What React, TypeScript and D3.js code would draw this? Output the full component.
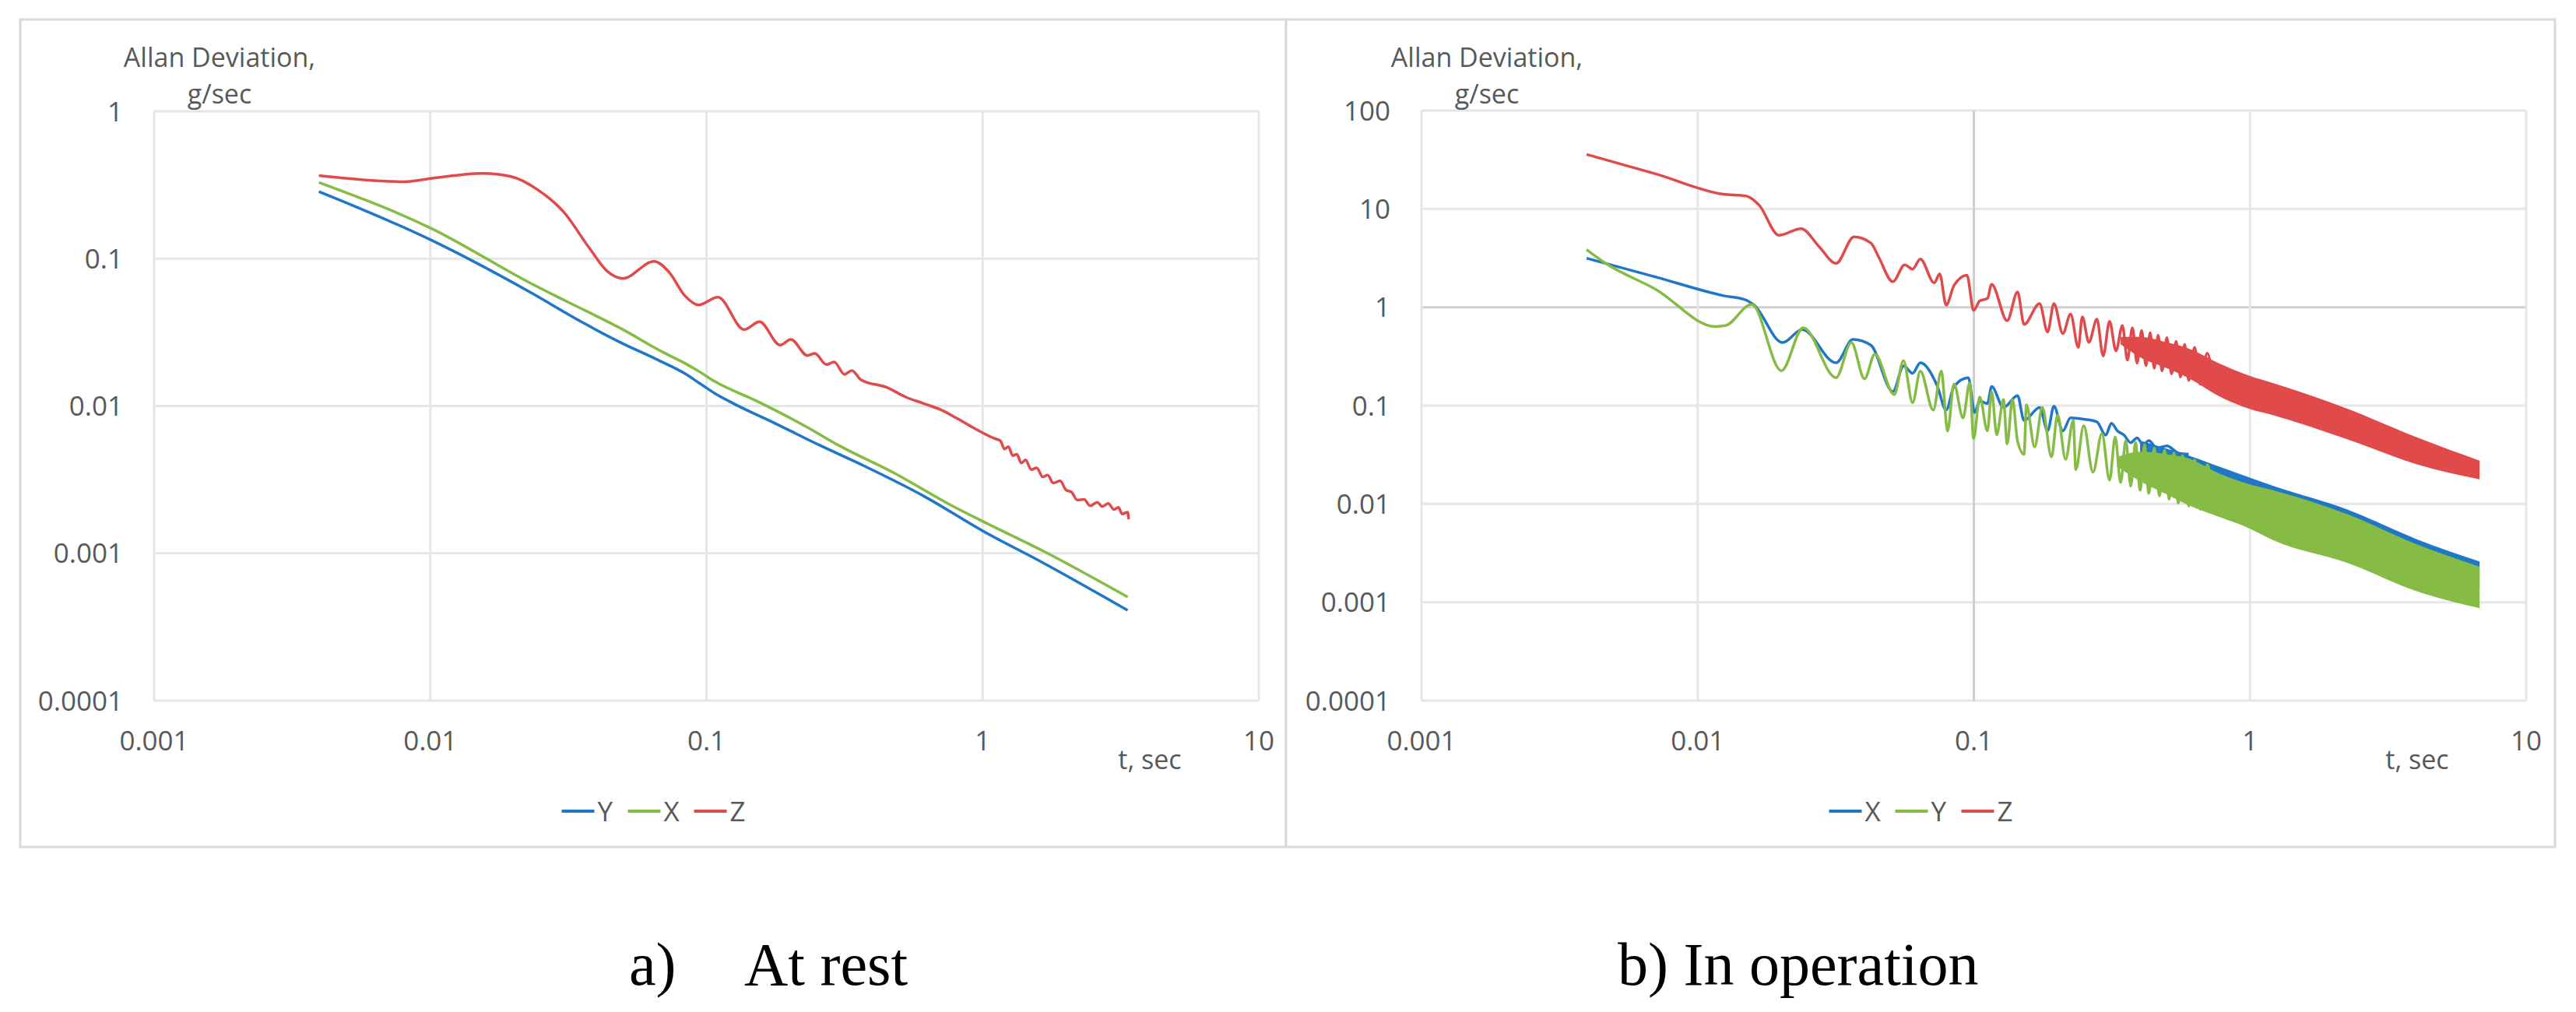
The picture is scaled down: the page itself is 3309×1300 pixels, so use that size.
import * as d3 from "d3";
import { useEffect, useRef } from "react";

const blue = "#1f77c8";
const green = "#86bb46";
const red = "#e04a4a";

const xTicks = [0.001, 0.01, 0.1, 1, 10];
const xTickLabels = ["0.001", "0.01", "0.1", "1", "10"];
const restYTicks = [1, 0.1, 0.01, 0.001, 0.0001];
const restYTickLabels = ["1", "0.1", "0.01", "0.001", "0.0001"];
const opYTicks = [100, 10, 1, 0.1, 0.01, 0.001, 0.0001];
const opYTickLabels = ["100", "10", "1", "0.1", "0.01", "0.001", "0.0001"];

// a) At rest  [t, deviation]
const restY: [number, number][] = [
    [0.00395, 0.2855], [0.01004, 0.134], [0.0229, 0.0594], [0.0352, 0.0373], [0.0488, 0.027],
    [0.0675, 0.0203], [0.0835, 0.0166], [0.0952, 0.0141], [0.107, 0.0122], [0.1277, 0.0102],
    [0.176, 0.00767], [0.256, 0.00543], [0.371, 0.00393], [0.611, 0.00245], [1.0, 0.00142],
    [1.65, 0.000865], [3.35, 0.00041]
];
const restX: [number, number][] = [
    [0.00395, 0.329], [0.01004, 0.161], [0.0229, 0.0686], [0.026, 0.0607], [0.0316, 0.0506],
    [0.0488, 0.0337], [0.0704, 0.0229], [0.0835, 0.0195], [0.0952, 0.0169], [0.107, 0.0147],
    [0.152, 0.0108], [0.226, 0.00736], [0.304, 0.00535], [0.476, 0.00352], [0.782, 0.00208],
    [1.0, 0.00165], [1.65, 0.00104], [3.35, 0.000505]
];
const restZ: [number, number][] = [
    [0.00395, 0.366], [0.0056, 0.344], [0.0081, 0.333], [0.01004, 0.35], [0.0155, 0.379],
    [0.0196, 0.361], [0.0244, 0.295], [0.0303, 0.209], [0.0376, 0.1185], [0.0437, 0.0822],
    [0.0498, 0.0734], [0.0646, 0.0958], [0.0734, 0.0805], [0.0835, 0.056], [0.0935, 0.0485],
    [0.11, 0.0548], [0.137, 0.033], [0.1556, 0.0373], [0.185, 0.0259], [0.202, 0.0283],
    [0.232, 0.022], [0.2466, 0.0227], [0.272, 0.0191], [0.29, 0.0199], [0.316, 0.01637],
    [0.336, 0.0174], [0.362, 0.0151], [0.453, 0.0133], [0.526, 0.0115], [0.611, 0.0104],
    [0.708, 0.0094], [0.802, 0.0083], [0.931, 0.00707], [1.107, 0.006], [1.16, 0.0058],
    [1.2, 0.0051], [1.24, 0.0053], [1.285, 0.0046], [1.33, 0.0047], [1.38, 0.0041],
    [1.43, 0.0043], [1.5, 0.0037], [1.57, 0.0038], [1.65, 0.0033], [1.72, 0.0034],
    [1.8, 0.003], [1.91, 0.0031], [2.0, 0.0027], [2.1, 0.0026], [2.2, 0.0023],
    [2.33, 0.00232], [2.45, 0.0021], [2.6, 0.00222], [2.71, 0.00208], [2.85, 0.00218],
    [2.99, 0.00198], [3.1, 0.00205], [3.2, 0.00185], [3.35, 0.0019], [3.38, 0.0017]
];

// b) In operation  [t, deviation]
const opX: [number, number][] = [
    [0.00396, 3.15], [0.00705, 2.03], [0.0124, 1.31], [0.015, 1.18], [0.016, 1.05],
    [0.0203, 0.437], [0.0239, 0.593], [0.0317, 0.272], [0.0365, 0.47], [0.0424, 0.41],
    [0.0509, 0.139], [0.0557, 0.253], [0.06, 0.213], [0.064, 0.272], [0.0736, 0.16],
    [0.0794, 0.09], [0.0847, 0.156], [0.0955, 0.192], [0.1007, 0.085], [0.105, 0.111],
    [0.112, 0.105], [0.116, 0.156], [0.128, 0.096], [0.144, 0.126], [0.152, 0.0706],
    [0.173, 0.0957], [0.185, 0.0554], [0.195, 0.0986], [0.21, 0.0554], [0.224, 0.075],
    [0.25, 0.0728], [0.279, 0.0685], [0.3, 0.05], [0.315, 0.066], [0.331, 0.0554],
    [0.35, 0.05], [0.37, 0.042], [0.39, 0.047], [0.41, 0.04], [0.43, 0.044],
    [0.46, 0.037], [0.5, 0.039], [0.55, 0.033], [0.6, 0.032]
];
const opY: [number, number][] = [
    [0.00396, 3.85], [0.00457, 2.87], [0.00705, 1.52], [0.0116, 0.637], [0.0126, 0.65],
    [0.0157, 1.07], [0.0201, 0.226], [0.0241, 0.62], [0.0317, 0.192], [0.036, 0.437],
    [0.0402, 0.187], [0.0438, 0.333], [0.0515, 0.129], [0.0556, 0.286], [0.06, 0.107],
    [0.064, 0.224], [0.0713, 0.09], [0.0762, 0.224], [0.0804, 0.0554], [0.0847, 0.166],
    [0.0914, 0.075], [0.0966, 0.17], [0.0998, 0.046], [0.105, 0.122], [0.112, 0.0554],
    [0.116, 0.138], [0.121, 0.0506], [0.128, 0.115], [0.132, 0.0408], [0.138, 0.115],
    [0.144, 0.0434], [0.152, 0.032], [0.155, 0.1017], [0.166, 0.038], [0.177, 0.096],
    [0.191, 0.03], [0.201, 0.08], [0.215, 0.0284], [0.229, 0.0706], [0.234, 0.0223],
    [0.25, 0.0625], [0.27, 0.021], [0.291, 0.052], [0.31, 0.0175], [0.325, 0.048],
    [0.34, 0.0165], [0.355, 0.044], [0.37, 0.0152], [0.385, 0.042], [0.4, 0.0138],
    [0.415, 0.04], [0.43, 0.0128], [0.45, 0.037], [0.47, 0.012], [0.49, 0.035],
    [0.51, 0.0112], [0.53, 0.033], [0.55, 0.0102], [0.57, 0.031], [0.6, 0.0095],
    [0.63, 0.028], [0.66, 0.0088], [0.7, 0.025], [0.74, 0.0082]
];
const opZ: [number, number][] = [
    [0.00396, 35.8], [0.00705, 22.7], [0.0124, 14.1], [0.015, 13.5], [0.0167, 10.9],
    [0.0197, 5.4], [0.0237, 6.3], [0.0275, 4.14], [0.0317, 2.79], [0.0368, 5.2],
    [0.0424, 4.5], [0.0452, 3.25], [0.0509, 1.82], [0.0562, 2.7], [0.06, 2.44],
    [0.064, 3.09], [0.0719, 1.77], [0.0752, 2.19], [0.0794, 1.05], [0.0847, 1.66],
    [0.0944, 2.12], [0.0998, 0.93], [0.105, 1.16], [0.112, 1.23], [0.116, 1.71],
    [0.132, 0.73], [0.144, 1.43], [0.152, 0.67], [0.173, 1.09], [0.185, 0.56],
    [0.195, 1.09], [0.21, 0.54], [0.224, 0.85], [0.239, 0.39], [0.247, 0.8],
    [0.261, 0.44], [0.279, 0.755], [0.294, 0.32], [0.31, 0.72], [0.327, 0.36],
    [0.345, 0.65], [0.36, 0.29], [0.375, 0.62], [0.39, 0.27], [0.405, 0.58],
    [0.42, 0.255], [0.435, 0.55], [0.45, 0.24], [0.465, 0.52], [0.48, 0.225],
    [0.5, 0.49], [0.52, 0.21], [0.54, 0.45], [0.56, 0.195], [0.58, 0.42],
    [0.6, 0.18], [0.63, 0.39], [0.66, 0.165], [0.7, 0.34], [0.74, 0.145]
];

// dense oscillation bands  [t, upper, lower]
const opXBand: [number, number, number][] = [
    [0.4, 0.044, 0.03], [0.6, 0.031, 0.018], [0.86, 0.0215, 0.011], [1.21, 0.0153, 0.008],
    [2.27, 0.0087, 0.0045], [4.0, 0.0044, 0.0024], [6.78, 0.0026, 0.0014]
];
const opYBand: [number, number, number][] = [
    [0.33, 0.03, 0.024], [0.4, 0.034, 0.017], [0.5, 0.032, 0.0125], [0.6, 0.029, 0.0097],
    [0.77, 0.0205, 0.0074], [1.0, 0.0158, 0.0056], [1.21, 0.0138, 0.0043], [2.27, 0.0078, 0.0025],
    [4.0, 0.0039, 0.0013], [6.78, 0.0023, 0.00087]
];
const opZBand: [number, number, number][] = [
    [0.34, 0.5, 0.42], [0.4, 0.5, 0.31], [0.5, 0.44, 0.24], [0.6, 0.38, 0.19],
    [0.77, 0.27, 0.125], [1.0, 0.2, 0.092], [1.21, 0.17, 0.08], [2.27, 0.092, 0.045],
    [4.0, 0.0477, 0.0254], [6.78, 0.0275, 0.0178]
];

const restLegend = [{ label: "Y", color: blue }, { label: "X", color: green }, { label: "Z", color: red }];
const opLegend = [{ label: "X", color: blue }, { label: "Y", color: green }, { label: "Z", color: red }];

const chartFont = "'Open Sans', sans-serif";
const textGrey = "#595959";

function drawPanel(svg: any, cfg: any) {
    const g = svg.append("g");

    // panel frame
    g.append("rect")
        .attr("x", cfg.frame[0]).attr("y", cfg.frame[1])
        .attr("width", cfg.frame[2]).attr("height", cfg.frame[3])
        .attr("fill", "#fff").attr("stroke", "#d9d9d9").attr("stroke-width", 3);

    const x = d3.scaleLog().domain([0.001, 10]).range([cfg.plot[0], cfg.plot[1]]);
    const y = d3.scaleLog().domain(cfg.yDomain).range([cfg.plot[3], cfg.plot[2]]);

    // grid
    g.selectAll(".hgrid").data(cfg.yTicks).enter().append("line")
        .attr("x1", cfg.plot[0]).attr("x2", cfg.plot[1])
        .attr("y1", (d: number) => y(d)).attr("y2", (d: number) => y(d))
        .attr("stroke", (d: number) => d === cfg.darkY ? "#d0d0d0" : "#e6e6e6")
        .attr("stroke-width", 3);
    g.selectAll(".vgrid").data(xTicks).enter().append("line")
        .attr("y1", cfg.plot[2]).attr("y2", cfg.plot[3])
        .attr("x1", (d: number) => x(d)).attr("x2", (d: number) => x(d))
        .attr("stroke", (d: number) => d === cfg.darkX ? "#cfcfcf" : "#e6e6e6")
        .attr("stroke-width", 3);

    // tick labels
    g.selectAll(".ylab").data(cfg.yTicks).enter().append("text")
        .attr("x", cfg.plot[0] - 40).attr("y", (d: number) => y(d)).attr("dy", "0.36em")
        .attr("text-anchor", "end")
        .style("font-family", chartFont).style("font-size", "35px").style("fill", textGrey)
        .text((d: number, i: number) => cfg.yTickLabels[i]);
    g.selectAll(".xlab").data(xTicks).enter().append("text")
        .attr("x", (d: number) => x(d)).attr("y", cfg.plot[3] + 51).attr("dy", "0.36em")
        .attr("text-anchor", "middle")
        .style("font-family", chartFont).style("font-size", "35px").style("fill", textGrey)
        .text((d: number, i: number) => xTickLabels[i]);

    // axis titles
    const titleX = cfg.plot[0] + 84;
    g.append("text").attr("x", titleX).attr("y", 86).attr("text-anchor", "middle")
        .style("font-family", chartFont).style("font-size", "34px").style("fill", textGrey)
        .text("Allan Deviation,");
    g.append("text").attr("x", titleX).attr("y", 133).attr("text-anchor", "middle")
        .style("font-family", chartFont).style("font-size", "34px").style("fill", textGrey)
        .text("g/sec");
    g.append("text").attr("x", cfg.plot[1] - 140).attr("y", 976).attr("dy", "0.36em")
        .attr("text-anchor", "middle")
        .style("font-family", chartFont).style("font-size", "34px").style("fill", textGrey)
        .text("t, sec");

    const area = d3.area<[number, number, number]>()
        .x(d => x(d[0])).y0(d => y(d[2])).y1(d => y(d[1]))
        .curve(d3.curveMonotoneX);
    const line = d3.line<[number, number]>()
        .x(d => x(d[0])).y(d => y(d[1]))
        .curve(d3.curveMonotoneX);

    // each series: dense band first (if any), then its line
    cfg.series.forEach((s: any) => {
        if (s.band) {
            g.append("path").attr("d", area(s.band)).attr("fill", s.color);
        }
        g.append("path").attr("d", line(s.data))
            .attr("fill", "none").attr("stroke", s.color)
            .attr("stroke-width", 3.5).attr("stroke-linejoin", "round");
    });

    // legend
    const cx = cfg.frame[0] + cfg.frame[2] / 2;
    const pitch = 85;
    const startX = cx - (pitch * cfg.legend.length - 20) / 2;
    cfg.legend.forEach((item: any, i: number) => {
        const lx = startX + i * pitch;
        g.append("line").attr("x1", lx).attr("x2", lx + 42)
            .attr("y1", 1042).attr("y2", 1042)
            .attr("stroke", item.color).attr("stroke-width", 4);
        g.append("text").attr("x", lx + 46).attr("y", 1042).attr("dy", "0.36em")
            .style("font-family", chartFont).style("font-size", "35px").style("fill", textGrey)
            .text(item.label);
    });
}

export default function App() {
    const svgRef = useRef(null);

    useEffect(() => {
        const svg = d3.select(svgRef.current);
        svg.selectAll("*").remove();

        svg.append("rect").attr("width", 3309).attr("height", 1300).attr("fill", "#fff");

        drawPanel(svg, {
            frame: [26, 25, 1626, 1063],
            plot: [198, 1617, 143, 900],
            yDomain: [0.0001, 1],
            yTicks: restYTicks,
            yTickLabels: restYTickLabels,
            series: [
                { data: restY, color: blue },
                { data: restX, color: green },
                { data: restZ, color: red }
            ],
            legend: restLegend
        });

        drawPanel(svg, {
            frame: [1652, 25, 1630, 1063],
            plot: [1826, 3245, 142, 900],
            yDomain: [0.0001, 100],
            yTicks: opYTicks,
            yTickLabels: opYTickLabels,
            darkX: 0.1,
            darkY: 1,
            series: [
                { data: opX, band: opXBand, color: blue },
                { data: opY, band: opYBand, color: green },
                { data: opZ, band: opZBand, color: red }
            ],
            legend: opLegend
        });

        // captions
        const serif = "'Liberation Serif', 'Times New Roman', serif";
        svg.append("text").attr("x", 808).attr("y", 1265)
            .style("font-family", serif).style("font-size", "78px").style("fill", "#000")
            .text("a)");
        svg.append("text").attr("x", 956).attr("y", 1265)
            .style("font-family", serif).style("font-size", "78px").style("fill", "#000")
            .text("At rest");
        svg.append("text").attr("x", 2078).attr("y", 1265)
            .style("font-family", serif).style("font-size", "78px").style("fill", "#000")
            .text("b) In operation");
    }, []);

    return (
        <svg ref={svgRef} width={3309} height={1300}
            style={{ position: "absolute", left: 0, top: 0, display: "block" }} />
    );
}
